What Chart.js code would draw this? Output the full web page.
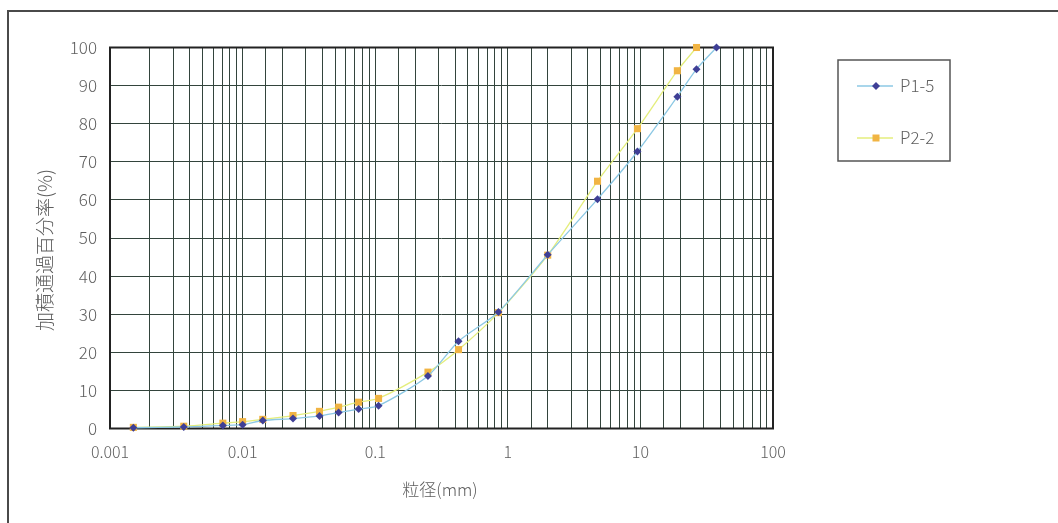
<!DOCTYPE html>
<html>
<head>
<meta charset="utf-8">
<script src="https://cdn.jsdelivr.net/npm/chart.js@4.4.1/dist/chart.umd.min.js"></script>
<style>
  html, body { margin: 0; padding: 0; background: #fff; }
  #wrap { width: 1058px; height: 523px; }
</style>
</head>
<body>
<div id="wrap"><canvas id="grain" width="1058" height="523"></canvas></div>
<script>
"use strict";

// sieve / hydrometer sizes (mm)
var SIZES = [0.0015, 0.0036, 0.0071, 0.010, 0.0142, 0.024, 0.038, 0.053, 0.075, 0.106,
             0.25, 0.425, 0.85, 2, 4.75, 9.5, 19, 26.5, 37.5];
// cumulative percent passing
var P1_5 = [0.2, 0.4, 0.8, 1.0, 2.1, 2.6, 3.3, 4.2, 5.1, 6.0,
            13.8, 22.9, 30.6, 45.6, 60.2, 72.7, 87.1, 94.3, 100];
var P2_2 = [0.3, 0.6, 1.4, 1.8, 2.4, 3.4, 4.5, 5.6, 6.9, 7.9,
            14.8, 20.7, 30.4, 45.5, 64.9, 78.7, 93.9, 100];

var SERIES_NAMES = ["P1-5", "P2-2"];
var X_MAJOR = [0.001, 0.01, 0.1, 1, 10, 100];
var X_TITLE = "粒径(mm)";
var Y_TITLE = "加積通過百分率(%)";

var FONT = '"Noto Sans CJK JP", "Noto Sans", sans-serif';
var TEXT_COLOR = "#5e5e5e";
var GRID_COLOR = "#33443c";

function pts(xs, ys) {
  return ys.map(function(v, i) { return { x: xs[i], y: v }; });
}

function labelFor(v) {
  for (var i = 0; i < X_MAJOR.length; i++) {
    if (Math.abs(v - X_MAJOR[i]) / X_MAJOR[i] < 1e-6) return String(X_MAJOR[i]);
  }
  return "";
}

// outer frame, plot border, axis titles, legend
var decor = {
  id: "decor",
  beforeDraw: function(chart) {
    var ctx = chart.ctx;
    ctx.save();
    ctx.fillStyle = "#fff";
    ctx.fillRect(0, 0, chart.width, chart.height);
    ctx.strokeStyle = "#4a4a4a";
    ctx.lineWidth = 2;
    ctx.beginPath();
    ctx.moveTo(8, chart.height);
    ctx.lineTo(8, 11);
    ctx.lineTo(chart.width, 11);
    ctx.stroke();
    ctx.restore();
  },
  beforeDatasetsDraw: function(chart) {
    var a = chart.chartArea, ctx = chart.ctx;
    ctx.save();
    ctx.strokeStyle = "#222";
    ctx.lineWidth = 2;
    ctx.strokeRect(a.left, a.top, a.right - a.left, a.bottom - a.top);
    ctx.restore();
  },
  afterDraw: function(chart) {
    var ctx = chart.ctx;
    ctx.save();
    ctx.fillStyle = TEXT_COLOR;
    ctx.font = "300 17px " + FONT;
    ctx.textAlign = "center";
    ctx.textBaseline = "middle";
    ctx.fillText(X_TITLE, 440, 490);
    ctx.font = "300 19px " + FONT;
    ctx.translate(45, 250);
    ctx.rotate(-Math.PI / 2);
    ctx.fillText(Y_TITLE, 0, 0);
    ctx.restore();

    // legend
    ctx.save();
    ctx.strokeStyle = "#555";
    ctx.lineWidth = 1.5;
    ctx.strokeRect(838, 60, 112, 101);
    var rows = [86, 138];
    chart.data.datasets.forEach(function(ds, i) {
      var y = rows[i];
      ctx.strokeStyle = ds.borderColor;
      ctx.lineWidth = 1.3;
      ctx.beginPath();
      ctx.moveTo(857, y);
      ctx.lineTo(893, y);
      ctx.stroke();
      ctx.fillStyle = ds.pointBackgroundColor;
      ctx.beginPath();
      if (ds.pointStyle === "rectRot") {
        ctx.moveTo(876, y - 4); ctx.lineTo(880, y); ctx.lineTo(876, y + 4); ctx.lineTo(872, y);
        ctx.closePath();
      } else {
        ctx.rect(872.5, y - 3.5, 7, 7);
      }
      ctx.fill();
      ctx.fillStyle = TEXT_COLOR;
      ctx.font = "300 17px " + FONT;
      ctx.textAlign = "left";
      ctx.textBaseline = "middle";
      ctx.fillText(ds.label, 900, y);
    });
    ctx.restore();
  }
};

new Chart(document.getElementById("grain").getContext("2d"), {
  type: "line",
  data: {
    datasets: [
      {
        label: SERIES_NAMES[0],
        data: pts(SIZES, P1_5),
        borderColor: "#8cc8e4",
        borderWidth: 1.3,
        pointStyle: "rectRot",
        pointRadius: 4,
        pointBackgroundColor: "#3f3f96",
        pointBorderColor: "#3f3f96",
        pointBorderWidth: 0,
        tension: 0.25,
        clip: false
      },
      {
        label: SERIES_NAMES[1],
        data: pts(SIZES, P2_2),
        borderColor: "#e4ee7c",
        borderWidth: 1.3,
        pointStyle: "rect",
        pointRadius: 5,
        pointBackgroundColor: "#f1b443",
        pointBorderColor: "#f1b443",
        pointBorderWidth: 0,
        tension: 0.25,
        clip: false
      }
    ]
  },
  options: {
    responsive: false,
    animation: false,
    layout: { padding: { left: 0, top: 47.5, right: 285, bottom: 0 } },
    plugins: { legend: { display: false }, tooltip: { enabled: false } },
    scales: {
      x: {
        type: "logarithmic",
        min: 0.001,
        max: 100,
        afterFit: function(s) { s.height = 94.5; },
        grid: { color: GRID_COLOR, lineWidth: 1, drawTicks: false },
        border: { display: false },
        ticks: {
          autoSkip: false,
          maxRotation: 0,
          padding: 14,
          color: TEXT_COLOR,
          font: { family: FONT, size: 16, weight: "300" },
          callback: function(v) { return labelFor(v); }
        }
      },
      y: {
        min: 0,
        max: 100,
        afterFit: function(s) { s.width = 110; },
        grid: { color: GRID_COLOR, lineWidth: 1, drawTicks: false },
        border: { display: false },
        ticks: {
          stepSize: 10,
          padding: 13,
          color: TEXT_COLOR,
          font: { family: FONT, size: 17, weight: "300" }
        }
      }
    }
  },
  plugins: [decor]
});
</script>
</body>
</html>
